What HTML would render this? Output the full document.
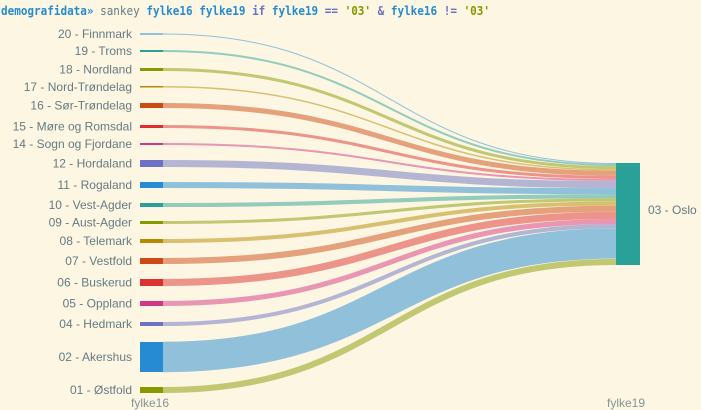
<!DOCTYPE html>
<html><head><meta charset="utf-8"><style>
body{margin:0;background:#fdf6e3;width:701px;height:410px;overflow:hidden}
svg{display:block}
</style></head><body>
<svg id="s" width="701" height="410" xmlns="http://www.w3.org/2000/svg">
<rect width="701" height="410" fill="#fdf6e3"/>
<text x="1" y="15" textLength="489" lengthAdjust="spacingAndGlyphs" font-family="'DejaVu Sans Mono','Liberation Mono',monospace" font-size="12.5" font-weight="bold"><tspan fill="#268bd2">demografidata»</tspan><tspan fill="#657b83" font-weight="normal"> sankey </tspan><tspan fill="#268bd2">fylke16 fylke19 </tspan><tspan fill="#6c71c4">if </tspan><tspan fill="#268bd2">fylke19 </tspan><tspan fill="#6c71c4">== </tspan><tspan fill="#859900">'03' </tspan><tspan fill="#6c71c4">&amp; </tspan><tspan fill="#268bd2">fylke16 </tspan><tspan fill="#6c71c4">!= </tspan><tspan fill="#859900">'03'</tspan></text>
<g id="links"></g><g id="nodes"></g>
<rect x="616" y="163" width="24" height="102" fill="#2aa198"/>
<text x="648" y="214" font-family="'Liberation Sans',sans-serif" font-size="12" fill="#657b83">03 - Oslo</text>
<text x="131" y="407" font-family="'Liberation Sans',sans-serif" font-size="12" fill="#839496">fylke16</text>
<text x="607" y="407" font-family="'Liberation Sans',sans-serif" font-size="12" fill="#839496">fylke19</text>
</svg>
<script>
var d=[["20 - Finnmark",33.5,34.5,"#268bd2"],["19 - Troms",50,52,"#2aa198"],["18 - Nordland",68,71,"#859900"],["17 - Nord-Trøndelag",86,87.5,"#b58900"],["16 - Sør-Trøndelag",103,108,"#cb4b16"],["15 - Møre og Romsdal",125,128,"#dc322f"],["14 - Sogn og Fjordane",143,145,"#d33682"],["12 - Hordaland",160,167,"#6c71c4"],["11 - Rogaland",182,188,"#268bd2"],["10 - Vest-Agder",203,207,"#2aa198"],["09 - Aust-Agder",221,224,"#859900"],["08 - Telemark",239,243,"#b58900"],["07 - Vestfold",258,264,"#cb4b16"],["06 - Buskerud",279,286,"#dc322f"],["05 - Oppland",301,306,"#d33682"],["04 - Hedmark",322,326,"#6c71c4"],["02 - Akershus",342,372,"#268bd2"],["01 - Østfold",387,393,"#859900"]];
var tot=0;d.forEach(function(r){tot+=r[2]-r[1]});
var sc=102/tot,ty=163,L="",N="",x0=163,x1=616,xm=(x0+x1)/2;
d.forEach(function(r){var h=r[2]-r[1],th=h*sc,ym=(r[1]+r[2])/2,tm=ty+th/2;ty+=th;
var w=(h+th)/2;
L+='<path d="M'+x0+' '+ym+'C'+xm+' '+ym+' '+xm+' '+tm+' '+x1+' '+tm+'" stroke="'+r[3]+'" stroke-opacity="0.5" stroke-width="'+Math.max(w,0.8)+'" fill="none"/>';
N+='<rect x="140" y="'+r[1]+'" width="23" height="'+Math.max(h,1)+'" fill="'+r[3]+'"/>';
N+='<text x="132" y="'+(ym+4)+'" text-anchor="end" font-family="\'Liberation Sans\',sans-serif" font-size="12" fill="#657b83">'+r[0]+'</text>';});
document.getElementById("links").innerHTML=L;document.getElementById("nodes").innerHTML=N;
</script>
</body></html>
